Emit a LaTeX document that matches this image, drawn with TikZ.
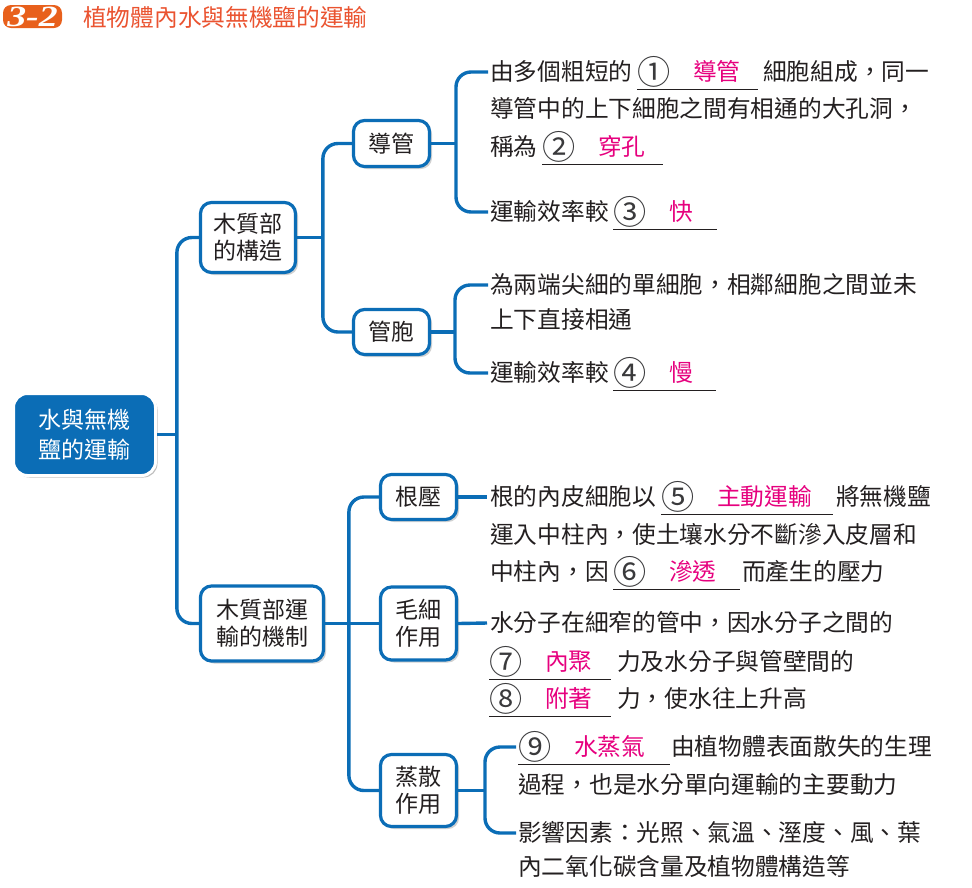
\documentclass[tikz,border=0pt]{standalone}
\usepackage{fontspec}
\setmainfont{Noto Sans CJK TC}
\newfontfamily\serifbi{Liberation Serif}
\usetikzlibrary{shadows}
\definecolor{mblue}{HTML}{0B6DB6}
\definecolor{ansmag}{HTML}{E6007E}
\definecolor{ttlred}{HTML}{EA5330}
\definecolor{badgeor}{HTML}{E8601C}
\definecolor{ink}{HTML}{231F20}
\definecolor{numgray}{HTML}{3A3A3C}
\tikzset{
 mbox/.style={draw=mblue, line width=3.2pt, rounded corners=11pt, fill=white, align=center, inner sep=0pt, text=ink,
   font=\fontsize{23}{27}\selectfont, drop shadow={shadow xshift=2.5pt, shadow yshift=-2.5pt, fill=black, opacity=0.18}},
 rootbox/.style={draw=white, fill=mblue, line width=3pt, rounded corners=14pt, align=center, inner sep=0pt, text=white,
   font=\fontsize{23}{30}\selectfont, drop shadow={shadow xshift=2pt, shadow yshift=-2pt, fill=black, opacity=0.25}},
 conn/.style={draw=mblue, line width=3.4pt, rounded corners=15pt},
 txt/.style={anchor=west, inner sep=0pt, text=ink, font=\fontsize{23.7}{28}\selectfont, text height=19.4pt, text depth=1.7pt},
 uline/.style={draw=ink, line width=1.3pt},
}
\newcommand{\answ}[1]{\textcolor{ansmag}{#1}}
\newcommand{\cnum}[1]{\raisebox{-3.4pt}{\scalebox{1.4}{\textcolor{numgray}{#1}}}}
\newcommand{\blk}[3]{\makebox[#1][l]{\makebox[56pt][l]{\cnum{#2}}\answ{#3}}}
\begin{document}
\begin{tikzpicture}[x=1pt,y=-1pt]
\useasboundingbox (0,0) rectangle (972,887);
% title
\node[fill=badgeor, rounded corners=8pt, minimum width=59pt, minimum height=23pt, inner sep=0pt, text=white,
  font=\serifbi\bfseries\itshape\fontsize{28}{28}\selectfont] (badge) at (32.5,16.5) {\raisebox{-1.5pt}{\scalebox{1.35}[1.05]{3-2}}};
\node[anchor=west, inner sep=0pt, text=ttlred, font=\fontsize{23.7}{28}\selectfont, text height=19.4pt, text depth=1.7pt] (title) at (83,18) {植物體內水與無機鹽的運輸};
% boxes
\node[rootbox, minimum width=142pt, minimum height=82pt] (root) at (84.5,434.5) {水與無機\\鹽的運輸};
\node[mbox, minimum width=95pt, minimum height=70pt] (xs) at (248,237.5) {木質部\\的構造};
\node[mbox, minimum width=123pt, minimum height=75pt] (xm) at (262,623.5) {木質部運\\輸的機制};
\node[mbox, minimum width=76pt, minimum height=46pt] (vessel) at (391.5,143.5) {導管};
\node[mbox, minimum width=76pt, minimum height=45pt] (trach) at (391.5,332) {管胞};
\node[mbox, minimum width=76pt, minimum height=45pt] (rp) at (418.5,497) {根壓};
\node[mbox, minimum width=76pt, minimum height=73pt] (cap) at (418.5,623.5) {毛細\\作用};
\node[mbox, minimum width=76pt, minimum height=72pt] (tr) at (418.5,790.5) {蒸散\\作用};
% vessel texts
\node[txt] (v1a) at (490,72) {由多個粗短的};
\node[txt] (v1b) at (637,72) {\blk{121pt}{①}{導管}};
\node[txt] (v1c) at (763,72) {細胞組成，同一};
\node[txt] (v2) at (490,109) {導管中的上下細胞之間有相通的大孔洞，};
\node[txt] (v3a) at (490,147) {稱為};
\node[txt] (v3b) at (542,147) {\blk{121pt}{②}{穿孔}};
\node[txt] (v4a) at (490,212) {運輸效率較};
\node[txt] (v4b) at (613,212) {\blk{104pt}{③}{快}};
% tracheid texts
\node[txt] (t1) at (490,285) {為兩端尖細的單細胞，相鄰細胞之間並未};
\node[txt] (t2) at (490,320) {上下直接相通};
\node[txt] (t3a) at (490,373) {運輸效率較};
\node[txt] (t3b) at (613,373) {\blk{103pt}{④}{慢}};
% root pressure texts
\node[txt] (r1a) at (490,497) {根的內皮細胞以};
\node[txt] (r1b) at (661,497) {\blk{172pt}{⑤}{主動運輸}};
\node[txt] (r1c) at (836,497) {將無機鹽};
\node[txt] (r2) at (490,535) {運入中柱內，使土壤水分不斷滲入皮層和};
\node[txt] (r3a) at (490,572) {中柱內，因};
\node[txt] (r3b) at (613,572) {\blk{127pt}{⑥}{滲透}};
\node[txt] (r3c) at (742,572) {而產生的壓力};
% capillary texts
\node[txt] (c1) at (490,623) {水分子在細窄的管中，因水分子之間的};
\node[txt] (c2a) at (489,662) {\blk{122pt}{⑦}{內聚}};
\node[txt] (c2b) at (617,662) {力及水分子與管壁間的};
\node[txt] (c3a) at (489,699) {\blk{122pt}{⑧}{附著}};
\node[txt] (c3b) at (617,699) {力，使水往上升高};
% transpiration texts
\node[txt] (s1a) at (518,747) {\blk{152pt}{⑨}{水蒸氣}};
\node[txt] (s1b) at (671,747) {由植物體表面散失的生理};
\node[txt] (s2) at (518,785) {過程，也是水分單向運輸的主要動力};
\node[txt] (s3) at (518,833) {影響因素：光照、氣溫、溼度、風、葉};
\node[txt] (s4) at (518,867) {內二氧化碳含量及植物體構造等};
% underlines
\foreach \b in {v1b,v3b,v4b,t3b,r1b,r3b,c2a,c3a,s1a}
  \draw[uline] ([yshift=-6.5pt]\b.south west) -- ([yshift=-6.5pt]\b.south east);
% connectors
\coordinate (jr) at (177,434.5);
\draw[conn] (root.east) -- (jr);
\draw[conn] (xs.west) -- ++(-22,0) |- (xm.west);
\coordinate (jx) at (323,237.5);
\draw[conn] (xs.east) -- (jx);
\draw[conn] (vessel.west) -- ++(-29,0) |- (trach.west);
\draw[conn] (rp.west) -- ++(-30,0) |- (tr.west);
\draw[conn] (xm.east) -- (cap.west);
\coordinate (jv) at (456,143.5);
\draw[conn] (vessel.east) -- (jv);
\draw[conn] ([xshift=-2pt]v1a.west) -- ++(-32,0) |- ([xshift=-2pt]v4a.west);
\coordinate (jt) at (455,332);
\draw[conn] (trach.east) -- (jt);
\draw[conn] ([xshift=-2pt]t1.west) -- ++(-33,0) |- ([xshift=-2pt]t3a.west);
\draw[conn] (rp.east) -- ([xshift=-3pt]r1a.west);
\draw[conn] (cap.east) -- ([xshift=-3pt]c1.west);
\coordinate (js) at (485,790.5);
\draw[conn] (tr.east) -- (js);
\draw[conn] ([xshift=-2pt]s1a.west) -- ++(-31,0) |- ([xshift=-2pt]s3.west);
\end{tikzpicture}
\end{document}
